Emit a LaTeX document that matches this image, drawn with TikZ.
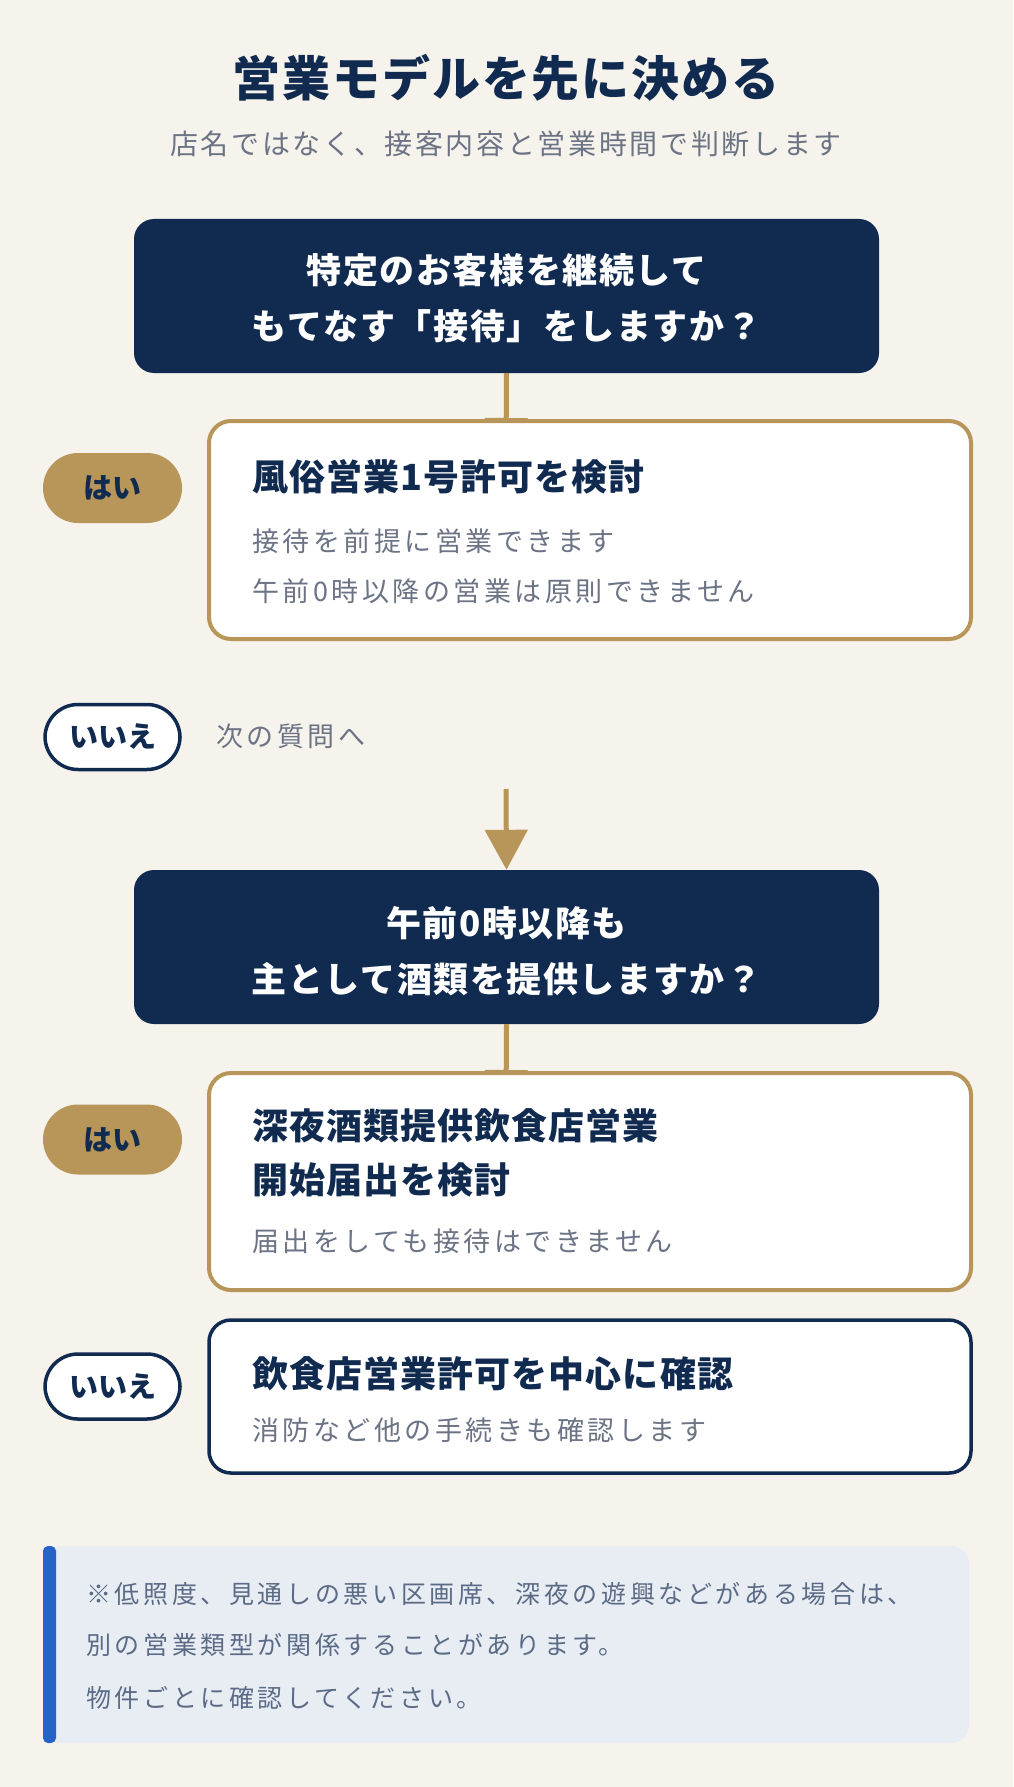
\documentclass[tikz,border=0pt]{standalone}
\usepackage{fontspec}
\usetikzlibrary{arrows.meta}
\newfontfamily\jp{Noto Sans CJK JP}
\definecolor{navy}{HTML}{102A50}
\definecolor{gold}{HTML}{B8965A}
\definecolor{bgc}{HTML}{F6F3EC}
\definecolor{greytxt}{HTML}{6B7385}
\definecolor{notefill}{HTML}{E8EDF4}
\definecolor{notetxt}{HTML}{5B6B86}
\definecolor{barblue}{HTML}{2563C9}
\tikzset{
  qbox/.style={fill=navy, rounded corners=20pt, minimum width=745pt, minimum height=154pt, inner sep=0pt},
  abox/.style={draw=gold, line width=4pt, fill=white, rounded corners=22pt, minimum width=762pt, inner sep=0pt},
  nbox/.style={draw=navy, line width=3.5pt, fill=white, rounded corners=22pt, minimum width=762pt, inner sep=0pt},
  yespill/.style={fill=gold, rounded corners=35pt, minimum width=139pt, minimum height=70pt, inner sep=0pt,
     font=\jp\fontsize{29}{29}\selectfont\bfseries, text=navy},
  nopill/.style={draw=navy, line width=3.5pt, fill=white, rounded corners=33pt, minimum width=135pt, minimum height=65pt, inner sep=0pt,
     font=\jp\fontsize{29}{29}\selectfont\bfseries, text=navy},
  qtext/.style={inner sep=0pt, text=white, font=\jp\fontsize{35}{35}\selectfont\bfseries\addfontfeature{LetterSpace=4.5}},
  atitle/.style={inner sep=0pt, anchor=west, text=navy, font=\jp\fontsize{36}{36}\selectfont\bfseries\addfontfeature{LetterSpace=3}},
  abody/.style={inner sep=0pt, anchor=west, text=greytxt, font=\jp\fontsize{27}{27}\selectfont\addfontfeature{LetterSpace=13}},
  notetext/.style={inner sep=0pt, anchor=west, text=notetxt, font=\jp\fontsize{25}{25}\selectfont\addfontfeature{LetterSpace=14.5}},
  flow/.style={draw=gold, line width=5pt, -{Triangle[width=42pt,length=40pt]}, color=gold}
}
\begin{document}
\begin{tikzpicture}[x=1pt,y=-1pt]
\fill[bgc] (0,0) rectangle (1013,1787);
\useasboundingbox (0,0) rectangle (1013,1787);

% title
\node[inner sep=0pt, text=navy, font=\jp\fontsize{48}{48}\selectfont\bfseries\addfontfeature{LetterSpace=4}] (title) at (506,78) {営業モデルを先に決める};
\node[inner sep=0pt, text=greytxt, font=\jp\fontsize{28}{28}\selectfont\addfontfeature{LetterSpace=9.5}] (subtitle) at (506,144) {店名ではなく、接客内容と営業時間で判断します};

% coordinates for arrows
\coordinate (a1end) at (506,458);
\coordinate (a2start) at (506,789);
\coordinate (a3end) at (506,1110);

% question 1
\node[qbox] (q1) at (506.5,296) {};
\draw[flow] (q1.south) -- (a1end);
\node[qtext] (q1a) at (506.5,270) {特定のお客様を継続して};
\node[qtext] (q1b) at (506.5,326) {もてなす「接待」をしますか？};

% answer yes 1
\node[abox, minimum height=218pt] (ans1) at (590,530) {};
\node[atitle] (ans1t) at (252,477) {風俗営業1号許可を検討};
\node[abody] (ans1a) at (252,541) {接待を前提に営業できます};
\node[abody] (ans1b) at (252,591) {午前0時以降の営業は原則できません};
\node[yespill] (yes1) at (112.5,488) {はい};

% no 1
\node[nopill] (no1) at (112.5,737) {いいえ};
\node[abody, text=greytxt] (next) at (216,736) {次の質問へ};

% question 2
\node[qbox] (q2) at (506.5,947) {};
\draw[flow] (a2start) -- (q2.north);
\draw[flow] (q2.south) -- (a3end);
\node[qtext] (q2a) at (506.5,923) {午前0時以降も};
\node[qtext] (q2b) at (506.5,979) {主として酒類を提供しますか？};

% answer yes 2
\node[abox, minimum height=217pt] (ans2) at (590,1181.5) {};
\node[atitle] (ans2t) at (252,1126) {深夜酒類提供飲食店営業};
\node[atitle] (ans2u) at (252,1180) {開始届出を検討};
\node[abody] (ans2a) at (252,1241) {届出をしても接待はできません};
\node[yespill] (yes2) at (112.5,1139.5) {はい};

% answer no 2
\node[nbox, minimum height=153pt] (ans3) at (590,1396.5) {};
\node[atitle] (ans3t) at (252,1374) {飲食店営業許可を中心に確認};
\node[abody] (ans3a) at (252,1430) {消防など他の手続きも確認します};
\node[nopill] (no2) at (112.5,1386.5) {いいえ};

% note
\node[fill=notefill, rounded corners=18pt, minimum width=926pt, minimum height=197pt, inner sep=0pt] (note) at (506,1644.5) {};
\node[fill=barblue, rounded corners=5pt, minimum width=13pt, minimum height=197pt, inner sep=0pt] (bar) at (49.5,1644.5) {};
\node[notetext] (n1) at (86,1594) {※低照度、見通しの悪い区画席、深夜の遊興などがある場合は、};
\node[notetext] (n2) at (86,1645) {別の営業類型が関係することがあります。};
\node[notetext] (n3) at (86,1698) {物件ごとに確認してください。};
\end{tikzpicture}
\end{document}
